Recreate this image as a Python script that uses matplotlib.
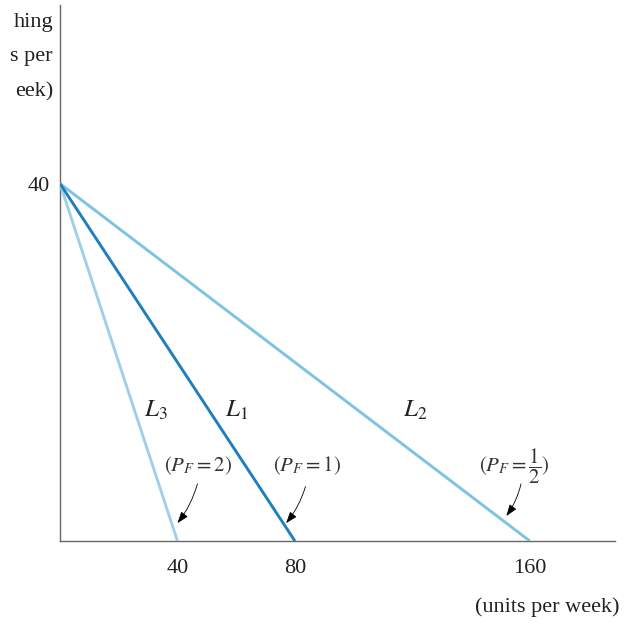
import matplotlib
matplotlib.use("Agg")
import matplotlib.pyplot as plt

# budget lines: food intercepts for each food price, clothing intercept fixed
clothing_max = 40
food_max = {"L3": 40, "L1": 80, "L2": 160}
price_lbl = {"L3": r"$(P_F = 2)$", "L1": r"$(P_F = 1)$", "L2": r"$(P_F = \dfrac{1}{2})$"}
x_ticks = [40, 80, 160]
y_ticks = [40]
# the y label is cut off by the left edge in the original; only these parts show
y_label_parts = ["hing", "s per", "eek)"]

plt.rcParams["font.family"] = ["Liberation Serif", "DejaVu Serif"]
plt.rcParams["mathtext.fontset"] = "stix"

W, H = 629, 630
fig = plt.figure(figsize=(W / 100, H / 100), dpi=100)
ax = fig.add_axes([60 / W, 89 / H, 555 / W, 536 / H])

colors = {"L3": "#9fd0ea", "L1": "#1f7fbc", "L2": "#7fc3e3"}
for k in ["L3", "L2", "L1"]:
    ax.plot([0, food_max[k]], [clothing_max, 0], color=colors[k], lw=2.1,
            solid_capstyle="butt", zorder=3)

ax.set_xlim(0, 189)
ax.set_ylim(0, 60)
for s in ["top", "right"]:
    ax.spines[s].set_visible(False)
for s in ["left", "bottom"]:
    ax.spines[s].set_color("#666666")
    ax.spines[s].set_linewidth(1.0)

ax.set_xticks(x_ticks)
ax.set_xticklabels([str(v) for v in x_ticks])
ax.set_yticks(y_ticks)
ax.set_yticklabels([str(v) for v in y_ticks])
ax.tick_params(length=0, labelsize=16, colors="#222222")
ax.tick_params(axis="x", pad=13)
ax.tick_params(axis="y", pad=7)

# line names
lbl_pos = {"L3": (32.5, 14.6), "L1": (60, 14.6), "L2": (121, 14.6)}
for k, (x, y) in lbl_pos.items():
    ax.text(x, y, r"$L_{%s}$" % k[1], fontsize=18, ha="center", va="center",
            color="#222222")

# price notes with arrows
note_pos = {"L3": (47, 8.4), "L1": (84, 8.4), "L2": (154.6, 8.4)}
arr = {"L3": ((46.8, 6.4), (40, 2.0)),
       "L1": ((83.6, 6.1), (77, 2.0)),
       "L2": ((157, 6.4), (152, 2.8))}
for k, (x, y) in note_pos.items():
    ax.text(x, y, price_lbl[k], fontsize=15, ha="center", va="center",
            color="#333333")
    (x0, y0), (x1, y1) = arr[k]
    ax.annotate("", xy=(x1, y1), xytext=(x0, y0),
                arrowprops=dict(arrowstyle="-|>,head_length=0.7,head_width=0.25",
                                color="black", lw=0.6, shrinkA=0, shrinkB=0,
                                connectionstyle="arc3,rad=-0.1"))

fig.text(547 / W, 1 - 607 / H, "(units per week)", fontsize=16, ha="center",
         va="center", color="#222222")

for txt, py in zip(y_label_parts, [22, 57, 92]):
    fig.text(53 / W, 1 - py / H, txt, fontsize=16, ha="right", va="center",
             color="#222222")

fig.savefig("out.png", dpi=100)
